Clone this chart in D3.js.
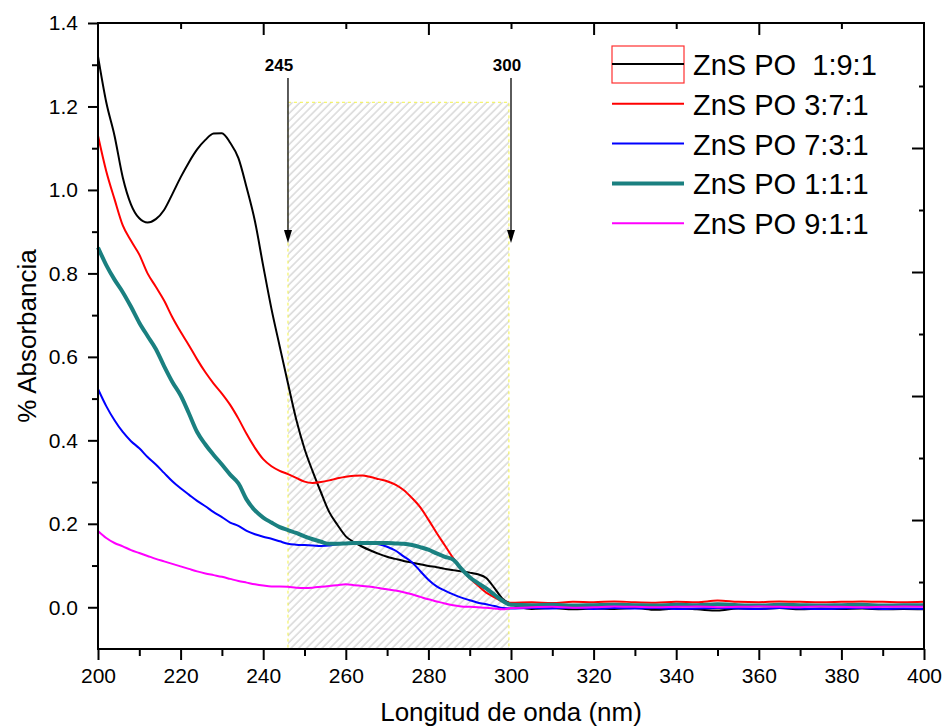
<!DOCTYPE html>
<html>
<head>
<meta charset="utf-8">
<script src="https://cdn.jsdelivr.net/npm/d3@7"></script>
<style>
  body { margin: 0; background: #fff; }
  svg { display: block; font-family: "Liberation Sans", Arial, sans-serif; }
</style>
</head>
<body>
<div id="chart"></div>
<script>
// wavelength grid (nm)
const wavelengths = [
  200, 202, 204, 206, 208, 210, 212, 214, 216, 218,
  220, 222, 224, 226, 228, 230, 232, 234, 236, 238,
  240, 242, 244, 246, 248, 250, 252, 254, 256, 258,
  260, 262, 264, 266, 268, 270, 272, 274, 276, 278,
  280, 282, 284, 286, 288, 290, 292, 294, 296, 298,
  300, 305, 310, 315, 320, 325, 330, 335, 340, 345,
  350, 355, 360, 365, 370, 375, 380, 385, 390, 395, 400
];

const abs191 = [
  1.32, 1.21, 1.13, 1.03, 0.965, 0.932, 0.922, 0.930, 0.952, 0.990,
  1.030, 1.066, 1.097, 1.120, 1.135, 1.136, 1.113, 1.076, 1.005, 0.925,
  0.818, 0.715, 0.625, 0.536, 0.450, 0.380, 0.325, 0.275, 0.228, 0.197,
  0.170, 0.156, 0.145, 0.136, 0.128, 0.121, 0.116, 0.111, 0.107, 0.103,
  0.099, 0.096, 0.092, 0.089, 0.086, 0.083, 0.079, 0.070, 0.046, 0.020,
  0.008, -0.004, -0.002, -0.005, -0.003, -0.004, -0.002, -0.006, -0.003, -0.005,
  -0.008, -0.003, -0.004, -0.002, -0.005, -0.003, -0.004, -0.003, -0.005, -0.004, -0.005
];

const abs371 = [
  1.13, 1.045, 0.978, 0.915, 0.878, 0.845, 0.800, 0.768, 0.735, 0.695,
  0.660, 0.628, 0.594, 0.563, 0.536, 0.512, 0.485, 0.452, 0.415, 0.382,
  0.355, 0.338, 0.327, 0.319, 0.310, 0.301, 0.298, 0.300, 0.304, 0.309,
  0.313, 0.315, 0.316, 0.312, 0.307, 0.302, 0.294, 0.281, 0.262, 0.240,
  0.210, 0.178, 0.148, 0.118, 0.093, 0.070, 0.052, 0.035, 0.024, 0.014,
  0.011, 0.012, 0.010, 0.013, 0.012, 0.014, 0.012, 0.011, 0.013, 0.012,
  0.016, 0.013, 0.012, 0.014, 0.013, 0.012, 0.013, 0.014, 0.013, 0.012, 0.013
];

const abs731 = [
  0.523, 0.482, 0.448, 0.420, 0.398, 0.381, 0.360, 0.342, 0.322, 0.302,
  0.285, 0.270, 0.255, 0.242, 0.228, 0.216, 0.203, 0.195, 0.183, 0.175,
  0.169, 0.164, 0.158, 0.152, 0.150, 0.149, 0.148, 0.147, 0.148, 0.151,
  0.153, 0.154, 0.154, 0.153, 0.151, 0.145, 0.136, 0.122, 0.108, 0.087,
  0.066, 0.050, 0.040, 0.031, 0.023, 0.017, 0.011, 0.007, 0.003, -0.002,
  -0.003, -0.002, -0.003, -0.001, -0.004, -0.002, -0.003, -0.002, -0.004, -0.003,
  -0.002, -0.003, -0.004, -0.002, -0.003, -0.004, -0.003, -0.002, -0.004, -0.003, -0.004
];

const abs111 = [
  0.862, 0.820, 0.785, 0.755, 0.720, 0.682, 0.650, 0.619, 0.578, 0.540,
  0.508, 0.465, 0.420, 0.390, 0.365, 0.342, 0.318, 0.297, 0.258, 0.232,
  0.215, 0.203, 0.192, 0.185, 0.178, 0.170, 0.163, 0.157, 0.152, 0.152,
  0.153, 0.154, 0.154, 0.154, 0.154, 0.154, 0.153, 0.152, 0.149, 0.144,
  0.138, 0.129, 0.121, 0.114, 0.092, 0.072, 0.058, 0.045, 0.030, 0.015,
  0.006, 0.005, 0.006, 0.004, 0.005, 0.006, 0.005, 0.004, 0.006, 0.005,
  0.007, 0.005, 0.004, 0.006, 0.005, 0.004, 0.005, 0.006, 0.004, 0.005, 0.005
];

const abs911 = [
  0.183, 0.166, 0.154, 0.146, 0.137, 0.130, 0.123, 0.116, 0.110, 0.104,
  0.098, 0.092, 0.086, 0.081, 0.077, 0.073, 0.068, 0.063, 0.059, 0.055,
  0.052, 0.050, 0.050, 0.049, 0.047, 0.046, 0.047, 0.049, 0.051, 0.053,
  0.055, 0.053, 0.051, 0.049, 0.046, 0.043, 0.040, 0.036, 0.031, 0.025,
  0.019, 0.014, 0.009, 0.005, 0.002, 0.001, 0.000, -0.001, -0.003, -0.005,
  -0.002, 0.000, 0.001, -0.001, 0.000, 0.002, 0.001, 0.000, 0.001, 0.002,
  0.000, 0.001, 0.002, 0.001, 0.000, 0.002, 0.001, 0.000, 0.001, 0.002, 0.001
];

const seriesNames = ["ZnS PO  1:9:1", "ZnS PO 3:7:1", "ZnS PO 7:3:1", "ZnS PO 1:1:1", "ZnS PO 9:1:1"];
const seriesValues = [abs191, abs371, abs731, abs111, abs911];
const seriesColors = ["#000000", "#ff0000", "#0000ff", "#1a8080", "#ff00ff"];
const seriesWidths = [2, 2, 2, 4, 2];

const xTicks = [200, 220, 240, 260, 280, 300, 320, 340, 360, 380, 400];
const yTicks = [0, 0.2, 0.4, 0.6, 0.8, 1.0, 1.2, 1.4];

// shaded band and the two arrows
const bandRange = [246, 299.5];
const bandTop = 1.21;
const arrowMarks = [
  { label: "245", wl: 246, dx: -9 },
  { label: "300", wl: 300, dx: -4 }
];
const arrowFrom = 1.268, arrowTo = 0.873;

// 1. Dimensions
const margin = { top: 23, right: 23, bottom: 79, left: 98 },
  width = 947 - margin.left - margin.right,
  height = 728 - margin.top - margin.bottom;

const svgRoot = d3.select("#chart")
  .append("svg")
  .attr("width", 947)
  .attr("height", 728);

const defs = svgRoot.append("defs");
const hatch = defs.append("pattern")
  .attr("id", "hatch")
  .attr("patternUnits", "userSpaceOnUse")
  .attr("width", 5.5)
  .attr("height", 5.5)
  .attr("patternTransform", "rotate(45)");
hatch.append("line")
  .attr("x1", 1).attr("y1", -1)
  .attr("x2", 1).attr("y2", 7)
  .attr("stroke", "#c4c4c4")
  .attr("stroke-width", 1);

const svg = svgRoot.append("g")
  .attr("transform", `translate(${margin.left},${margin.top})`);

// 2. Scales
const x = d3.scaleLinear().domain([200, 400]).range([0, width]);
const y = d3.scaleLinear().domain([-0.1, 1.4]).range([height, 0]);
// right axis carries its own (linked) scale
const yRight = d3.scaleLinear().domain([-0.108, 0.9016]).range([height, 0]);

// 3. Hatched band
svg.append("rect")
  .attr("x", x(bandRange[0]))
  .attr("y", y(bandTop))
  .attr("width", x(bandRange[1]) - x(bandRange[0]))
  .attr("height", y(-0.1) - y(bandTop))
  .attr("fill", "url(#hatch)")
  .attr("stroke", "#f2f24a")
  .attr("stroke-width", 1)
  .attr("stroke-dasharray", "3,3");

// 4. Lines
const line = d3.line()
  .x((d, i) => x(wavelengths[i]))
  .y(d => y(d))
  .curve(d3.curveMonotoneX);

seriesValues.forEach((vals, k) => {
  svg.append("path")
    .datum(vals)
    .attr("fill", "none")
    .attr("stroke", seriesColors[k])
    .attr("stroke-width", seriesWidths[k])
    .attr("stroke-linejoin", "round")
    .attr("d", line);
});

// 5. Axes
const fontTick = "21px";
function styleAxis(g) {
  g.select(".domain").remove();
  g.selectAll("line").attr("stroke", "#000").attr("stroke-width", 2);
  g.selectAll("text")
    .attr("fill", "#000")
    .style("font-size", fontTick)
    .style("font-family", '"Liberation Sans", Arial, sans-serif');
}

// bottom
svg.append("g")
  .attr("transform", `translate(0,${height})`)
  .call(d3.axisBottom(x).tickValues(xTicks).tickSize(11).tickPadding(8).tickFormat(d3.format("d")))
  .call(styleAxis);
svg.append("g")
  .attr("transform", `translate(0,${height})`)
  .call(d3.axisBottom(x).tickValues(xTicks.slice(0, -1).map(v => v + 10)).tickSize(7).tickFormat(""))
  .call(styleAxis);

// left
svg.append("g")
  .call(d3.axisLeft(y).tickValues(yTicks).tickSize(10).tickPadding(10).tickFormat(d3.format(".1f")))
  .call(styleAxis);
svg.append("g")
  .call(d3.axisLeft(y).tickValues(yTicks.slice(0, -1).map(v => v + 0.1)).tickSize(6).tickFormat(""))
  .call(styleAxis);

// top (inward)
svg.append("g")
  .call(d3.axisBottom(x).tickValues([240, 280, 320, 360]).tickSize(12).tickFormat(""))
  .call(styleAxis);
svg.append("g")
  .call(d3.axisBottom(x).tickValues([220, 260, 300, 340, 380]).tickSize(6).tickFormat(""))
  .call(styleAxis);

// right (inward)
svg.append("g")
  .attr("transform", `translate(${width},0)`)
  .call(d3.axisLeft(yRight).tickValues([0.1, 0.3, 0.5, 0.7]).tickSize(12).tickFormat(""))
  .call(styleAxis);
svg.append("g")
  .attr("transform", `translate(${width},0)`)
  .call(d3.axisLeft(yRight).tickValues([0, 0.2, 0.4, 0.6, 0.8]).tickSize(5).tickFormat(""))
  .call(styleAxis);

// frame
svg.append("rect")
  .attr("width", width)
  .attr("height", height)
  .attr("fill", "none")
  .attr("stroke", "#000")
  .attr("stroke-width", 2);

// 6. Arrows with labels
arrowMarks.forEach(a => {
  const ax = x(a.wl);
  svg.append("line")
    .attr("x1", ax).attr("x2", ax)
    .attr("y1", y(arrowFrom)).attr("y2", y(arrowTo) - 10)
    .attr("stroke", "#333")
    .attr("stroke-width", 1.6);
  svg.append("path")
    .attr("d", `M${ax - 4},${y(arrowTo) - 13} L${ax + 4},${y(arrowTo) - 13} L${ax},${y(arrowTo)} Z`)
    .attr("fill", "#000");
  svg.append("text")
    .attr("x", ax + a.dx)
    .attr("y", y(arrowFrom) - 7)
    .attr("text-anchor", "middle")
    .attr("font-size", "17px")
    .attr("font-weight", "bold")
    .text(a.label);
});

// 7. Legend
const legend = svg.append("g")
  .attr("transform", `translate(${612 - margin.left},${64 - margin.top})`);

legend.append("rect")
  .attr("x", 0).attr("y", -18)
  .attr("width", 72).attr("height", 37)
  .attr("fill", "none")
  .attr("stroke", "#ff3030")
  .attr("stroke-width", 1.2);

seriesNames.forEach((name, k) => {
  const ly = k * 39.8;
  legend.append("line")
    .attr("x1", 0).attr("x2", 72)
    .attr("y1", ly).attr("y2", ly)
    .attr("stroke", seriesColors[k])
    .attr("stroke-width", seriesWidths[k]);
  legend.append("text")
    .attr("x", 81)
    .attr("y", ly + 11)
    .attr("font-size", "29px")
    .attr("fill", "#000")
    .style("white-space", "pre")
    .text(name);
});

// 8. Axis titles
svg.append("text")
  .attr("x", width / 2)
  .attr("y", height + 72)
  .attr("text-anchor", "middle")
  .attr("font-size", "26px")
  .text("Longitud de onda (nm)");

svg.append("text")
  .attr("transform", `translate(${-62},${height / 2}) rotate(-90)`)
  .attr("text-anchor", "middle")
  .attr("font-size", "26px")
  .text("% Absorbancia");
</script>
</body>
</html>
